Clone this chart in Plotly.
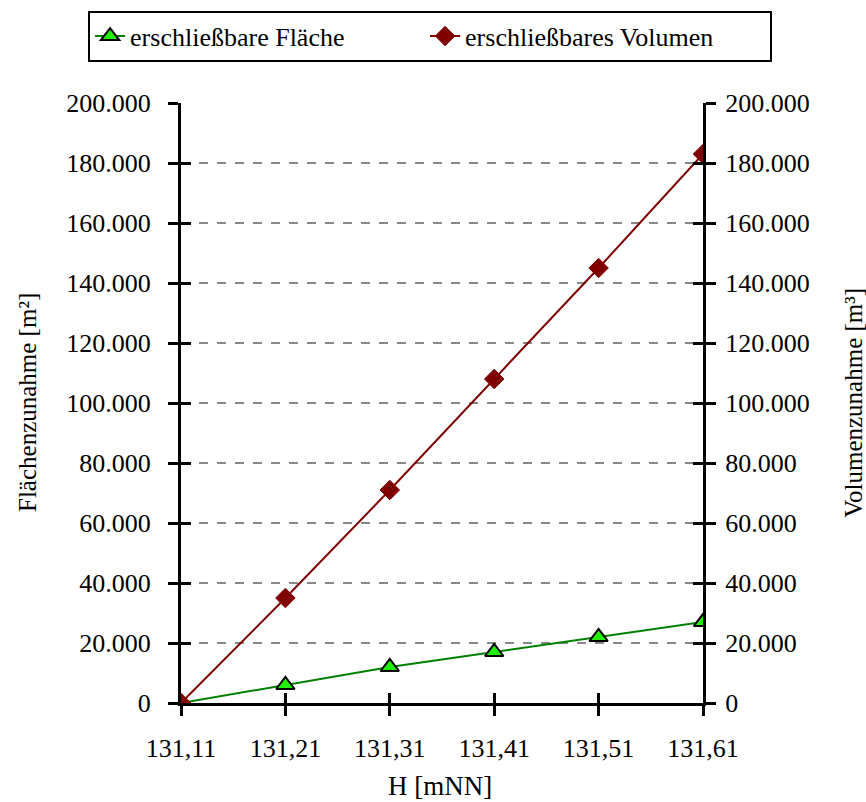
import plotly.graph_objects as go

H = [131.11, 131.21, 131.31, 131.41, 131.51, 131.61]
flaeche = [0, 6000, 12000, 17000, 22000, 27000]
volumen = [0, 35000, 71000, 108000, 145000, 183000]
x_ticks = [131.11, 131.21, 131.31, 131.41, 131.51, 131.61]
y_ticks = list(range(0, 200001, 20000))

FONT = "Liberation Serif"
fig = go.Figure()

fig.add_trace(go.Scatter(
    x=H, y=flaeche, name="erschließbare Fläche", mode="lines+markers",
    line=dict(color="#008000", width=2),
    marker=dict(symbol="triangle-up", size=16, color="#22ee00",
                line=dict(color="black", width=2)),
    legendwidth=290,
    xaxis="x", yaxis="y"))
fig.add_trace(go.Scatter(
    x=H, y=volumen, name="erschließbares Volumen", mode="lines+markers",
    line=dict(color="#800000", width=2),
    marker=dict(symbol="diamond", size=15, color="#800000",
                line=dict(color="#800000", width=1)),
    legendwidth=300,
    xaxis="x", yaxis="y2"))
# dummy traces for overlay axes (inside tick halves)
fig.add_trace(go.Scatter(x=[None], y=[None], xaxis="x2", yaxis="y3",
                         showlegend=False, hoverinfo="skip"))
fig.add_trace(go.Scatter(x=[None], y=[None], xaxis="x2", yaxis="y4",
                         showlegend=False, hoverinfo="skip"))

xr = [131.11, 131.61]
yr = [0, 200000]
tickfont = dict(family=FONT, size=26, color="black")

fig.update_layout(
    width=866, height=802,
    paper_bgcolor="white", plot_bgcolor="white",
    separators=",.",
    margin=dict(l=181, r=163, t=102, b=99),
    font=dict(family=FONT, size=26, color="black"),
    showlegend=True,
    legend=dict(orientation="h", x=-0.178, xanchor="left", xref="paper",
                y=1.152, yanchor="top", yref="paper",
                bordercolor="black", borderwidth=2,
                font=dict(family=FONT, size=26, color="black"),
                entrywidthmode="pixels", tracegroupgap=0),
    xaxis=dict(range=xr, tickvals=x_ticks, tickformat=".2f", ticks="outside",
               ticklen=10, tickwidth=3, tickcolor="black", showline=True,
               linecolor="black", linewidth=3, showgrid=False, zeroline=False,
               tickfont=tickfont, ticklabelstandoff=10, automargin=False),
    xaxis2=dict(range=xr, tickvals=x_ticks, ticks="inside", ticklen=10, tickwidth=3,
                tickcolor="black", showticklabels=False, overlaying="x", side="bottom",
                showgrid=False, zeroline=False, showline=False, anchor="y3",
                automargin=False),
    yaxis=dict(range=yr, tickvals=y_ticks, tickformat=",d", ticks="outside",
               ticklen=10, tickwidth=3, tickcolor="black", showline=True,
               linecolor="black", linewidth=3, showgrid=True, gridcolor="#888888",
               griddash="dash", gridwidth=2, zeroline=False, tickfont=tickfont,
               ticklabelstandoff=12, automargin=False),
    yaxis2=dict(range=yr, tickvals=y_ticks, tickformat=",d", ticks="outside",
                ticklen=10, tickwidth=3, tickcolor="black", showline=True,
                linecolor="black", linewidth=3, showgrid=False, zeroline=False,
                overlaying="y", side="right", anchor="x", tickfont=tickfont,
                ticklabelstandoff=4, automargin=False),
    yaxis3=dict(range=yr, tickvals=y_ticks, ticks="inside", ticklen=10, tickwidth=3,
                tickcolor="black", showticklabels=False, overlaying="y", side="left",
                showgrid=False, zeroline=False, showline=False, anchor="x2",
                automargin=False),
    yaxis4=dict(range=yr, tickvals=y_ticks, ticks="inside", ticklen=10, tickwidth=3,
                tickcolor="black", showticklabels=False, overlaying="y", side="right",
                showgrid=False, zeroline=False, showline=False, anchor="x2",
                automargin=False),
    annotations=[
        dict(text="Flächenzunahme [m²]", xref="paper", yref="paper", x=-0.295, y=0.5,
             xanchor="center", yanchor="middle", textangle=-90, showarrow=False,
             font=dict(family=FONT, size=25, color="black")),
        dict(text="Volumenzunahme [m³]", xref="paper", yref="paper", x=1.287, y=0.5,
             xanchor="center", yanchor="middle", textangle=-90, showarrow=False,
             font=dict(family=FONT, size=25, color="black")),
        dict(text="H [mNN]", xref="paper", yref="paper", x=0.497, y=-0.1647,
             xanchor="center", yanchor="bottom", showarrow=False, borderpad=0,
             font=dict(family=FONT, size=27, color="black")),
    ],
)

fig.write_html("out.html", config={"displayModeBar": False},
               post_script="document.body.style.margin='0';")
